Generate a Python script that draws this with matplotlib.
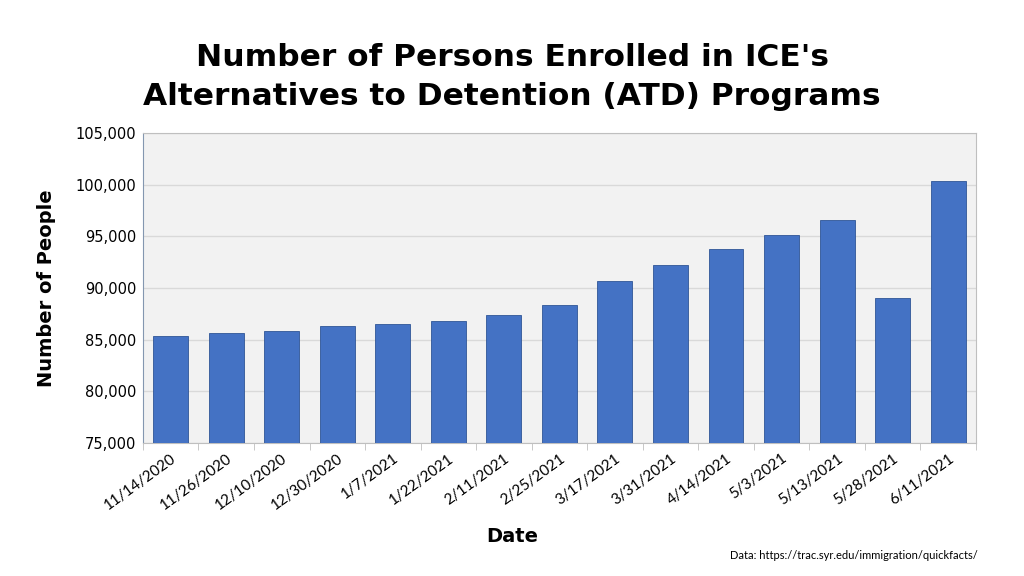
import numpy as np
import matplotlib.pyplot as plt
from matplotlib.ticker import FuncFormatter, FixedLocator

dates = ["11/14/2020", "11/26/2020", "12/10/2020", "12/30/2020", "1/7/2021",
         "1/22/2021", "2/11/2021", "2/25/2021", "3/17/2021", "3/31/2021",
         "4/14/2021", "5/3/2021", "5/13/2021", "5/28/2021", "6/11/2021"]
enrolled = [85387, 85613, 85839, 86355, 86548, 86839, 87387, 88323,
            90645, 92194, 93742, 95129, 96548, 89065, 100323]

fig = plt.figure(figsize=(10.24, 5.76), dpi=100)
ax = fig.add_axes([0.1396, 0.2309, 0.8134, 0.5382])

x = np.arange(len(dates))
ax.bar(x, enrolled, width=0.63, color="#4472C4", edgecolor="#2F5597",
       linewidth=0.6, zorder=3)
ax.set_ylim(75000, 105000)
ax.set_xlim(-0.5, len(dates) - 0.5)
ax.set_facecolor("#F2F2F2")
ax.yaxis.grid(True, color="#D9D9D9", linewidth=1, zorder=0)
ax.set_yticks(np.arange(75000, 105001, 5000))
ax.yaxis.set_major_formatter(FuncFormatter(lambda v, p: f"{int(v):,}"))
ax.tick_params(axis="y", length=0, labelsize=10.5, pad=5)

ax.set_xticks(x)
ax.set_xticklabels(dates, rotation=36, ha="right", rotation_mode="anchor",
                   fontsize=11, family="Lato")
ax.tick_params(axis="x", which="major", length=0, pad=6)
ax.xaxis.set_minor_locator(FixedLocator(np.arange(-0.5, len(dates), 1.0)))
ax.tick_params(axis="x", which="minor", length=5, color="#BFBFBF")

for s in ["top", "right", "bottom"]:
    ax.spines[s].set_color("#BFBFBF")
ax.spines["left"].set_color("#8497B0")

fig.text(0.5, 0.866, "Number of Persons Enrolled in ICE's\nAlternatives to Detention (ATD) Programs",
         ha="center", va="center", fontsize=22.5, fontweight="bold", linespacing=1.45)
fig.text(0.045, 0.5, "Number of People", rotation=90, ha="center", va="center",
         fontsize=14, fontweight="bold")
fig.text(0.5, 0.068, "Date", ha="center", va="center", fontsize=14, fontweight="bold")
fig.text(0.713, 0.035, "Data: https://trac.syr.edu/immigration/quickfacts/",
         ha="left", va="center", fontsize=8, family="Lato")

fig.savefig("out.png", dpi=100)
